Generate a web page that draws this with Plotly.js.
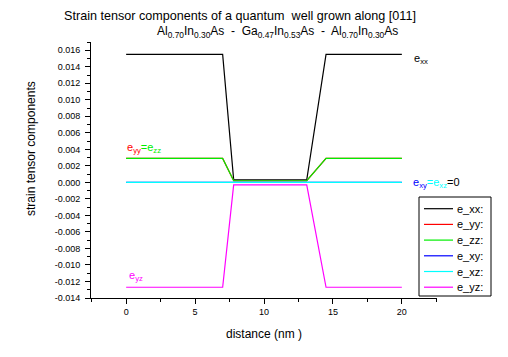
<!DOCTYPE html>
<html>
<head>
<meta charset="utf-8">
<script src="https://cdn.plot.ly/plotly-3.0.1.min.js"></script>
<style>
html,body{margin:0;padding:0;background:#fff;}
#chart{width:508px;height:357px;}
</style>
</head>
<body>
<div id="chart"></div>
<script>
// ---- data ----
const distance = [0, 7, 7.8, 13.1, 14.5, 20];
const e_xx = [0.0155, 0.0155, 0.0003, 0.0003, 0.0155, 0.0155];
const e_yy = [0.0029, 0.0029, 0.0002, 0.0002, 0.0029, 0.0029];
const e_zz = [0.0029, 0.0029, 0.0002, 0.0002, 0.0029, 0.0029];
const e_xy = [0, 0, 0, 0, 0, 0];
const e_xz = [0, 0, 0, 0, 0, 0];
const e_yz = [-0.0127, -0.0127, -0.0003, -0.0003, -0.0127, -0.0127];

const seriesNames = ['e_xx:', 'e_yy:', 'e_zz:', 'e_xy:', 'e_xz:', 'e_yz:'];
const seriesColors = ['#000000', '#ff0000', '#00ee00', '#0000ff', '#00ffff', '#ff00ff'];

const yTickVals = [0.016, 0.014, 0.012, 0.010, 0.008, 0.006, 0.004, 0.002, 0.000,
  -0.002, -0.004, -0.006, -0.008, -0.010, -0.012, -0.014];
const yTickText = ['0.016', '0.014', '0.012', '0.010', '0.008', '0.006', '0.004', '0.002', '0.000',
  '-0.002', '-0.004', '-0.006', '-0.008', '-0.010', '-0.012', '-0.014'];
const xTickVals = [0, 5, 10, 15, 20];
const xTickText = ['0', '5', '10', '15', '20'];

// ---- layout geometry (pixels) ----
const W = 508, H = 357;
const L = 91, R = 437, T = 42, B = 298;
const px = x => (x - L) / (R - L);
const py = y => (B - y) / (B - T);
const FONT = 'Liberation Sans, Arial, sans-serif';

const seriesData = [e_xx, e_yy, e_zz, e_xy, e_xz, e_yz];
const traces = seriesData.map((ys, i) => ({
  x: distance, y: ys, type: 'scatter', mode: 'lines', name: seriesNames[i],
  line: {color: seriesColors[i], width: 1.2}, showlegend: false, hoverinfo: 'skip'
}));

// custom legend box
const shapes = [{
  type: 'rect', xref: 'paper', yref: 'paper',
  x0: px(419), x1: px(491), y0: py(296), y1: py(197),
  line: {color: '#000', width: 1}, fillcolor: '#fff', layer: 'above'
}];
const annotations = [];
seriesNames.forEach((nm, i) => {
  const yy = 208.7 + i * 15.7;
  shapes.push({type: 'line', xref: 'paper', yref: 'paper',
    x0: px(424), x1: px(453), y0: py(yy), y1: py(yy),
    line: {color: seriesColors[i], width: 1.2}, layer: 'above'});
  annotations.push({xref: 'paper', yref: 'paper', x: px(455), y: py(yy),
    xanchor: 'left', yanchor: 'middle', showarrow: false, text: nm,
    font: {family: FONT, size: 11, color: '#000'}});
});

// chart annotations
annotations.push(
  {xref: 'paper', yref: 'paper', x: (277 - L) / (R - L), y: py(32), xanchor: 'center', yanchor: 'middle', showarrow: false,
   text: 'Al<sub>0.70</sub>In<sub>0.30</sub>As  -  Ga<sub>0.47</sub>In<sub>0.53</sub>As  -  Al<sub>0.70</sub>In<sub>0.30</sub>As',
   font: {family: FONT, size: 12, color: '#000'}},
  {xref: 'paper', yref: 'paper', x: px(31), y: py(149), xanchor: 'center', yanchor: 'middle', showarrow: false,
   textangle: -90, text: 'strain tensor components', font: {family: FONT, size: 12, color: '#000'}},
  {xref: 'x', yref: 'y', x: 20.7, y: 0.0150, xanchor: 'left', yanchor: 'middle', showarrow: false,
   text: 'e<sub>xx</sub>', font: {family: FONT, size: 11, color: '#000'}},
  {xref: 'x', yref: 'y', x: -0.1, y: 0.0042, xanchor: 'left', yanchor: 'middle', showarrow: false,
   text: '<span style="color:#ff0000">e<sub>yy</sub></span><span style="color:#00ee00">=e<sub>zz</sub></span>',
   font: {family: FONT, size: 11, color: '#000'}},
  {xref: 'x', yref: 'y', x: 20.65, y: -0.0001, xanchor: 'left', yanchor: 'middle', showarrow: false,
   text: '<span style="color:#0000ff">e<sub>xy</sub></span><span style="color:#00ffff">=e<sub>xz</sub></span>=0',
   font: {family: FONT, size: 11, color: '#000'}},
  {xref: 'x', yref: 'y', x: 0.05, y: -0.0113, xanchor: 'left', yanchor: 'middle', showarrow: false,
   text: '<span style="color:#ff00ff">e<sub>yz</sub></span>',
   font: {family: FONT, size: 11, color: '#ff00ff'}}
);

const layout = {
  width: W, height: H,
  margin: {l: L, r: W - R, t: T, b: H - B, pad: 0},
  paper_bgcolor: '#fff', plot_bgcolor: '#fff',
  font: {family: FONT, size: 9, color: '#000'},
  title: {text: 'Strain tensor components of a quantum  well grown along [011]',
    x: 240 / W, xref: 'container', xanchor: 'center', y: 1 - 16 / H, yref: 'container', yanchor: 'middle',
    font: {family: FONT, size: 12.6, color: '#000'}},
  xaxis: {range: [-2.55, 22.55], showline: true, linecolor: '#000', linewidth: 1, mirror: false,
    showgrid: false, zeroline: false, ticks: 'outside', ticklen: 5, tickcolor: '#000', tickwidth: 1,
    tickmode: 'array', tickvals: xTickVals, ticktext: xTickText, tickfont: {family: FONT, size: 9, color: '#000'},
    minor: {tickmode: 'linear', tick0: 0, dtick: 2.5, ticks: 'outside', ticklen: 3, tickcolor: '#000', showgrid: false},
    title: {text: 'distance (nm )', font: {family: FONT, size: 12, color: '#000'}, standoff: 13}},
  yaxis: {range: [-0.014, 0.017], showline: true, linecolor: '#000', linewidth: 1,
    showgrid: false, zeroline: false, ticks: 'outside', ticklen: 5, tickcolor: '#000', tickwidth: 1,
    ticklabelstandoff: 3,
    tickmode: 'array', tickvals: yTickVals, ticktext: yTickText, tickfont: {family: FONT, size: 9, color: '#000'},
    minor: {tickmode: 'linear', tick0: 0, dtick: 0.001, ticks: 'outside', ticklen: 3, tickcolor: '#000', showgrid: false}},
  shapes: shapes,
  annotations: annotations,
  showlegend: false
};

Plotly.newPlot('chart', traces, layout, {displayModeBar: false, staticPlot: true});
</script>
</body>
</html>
